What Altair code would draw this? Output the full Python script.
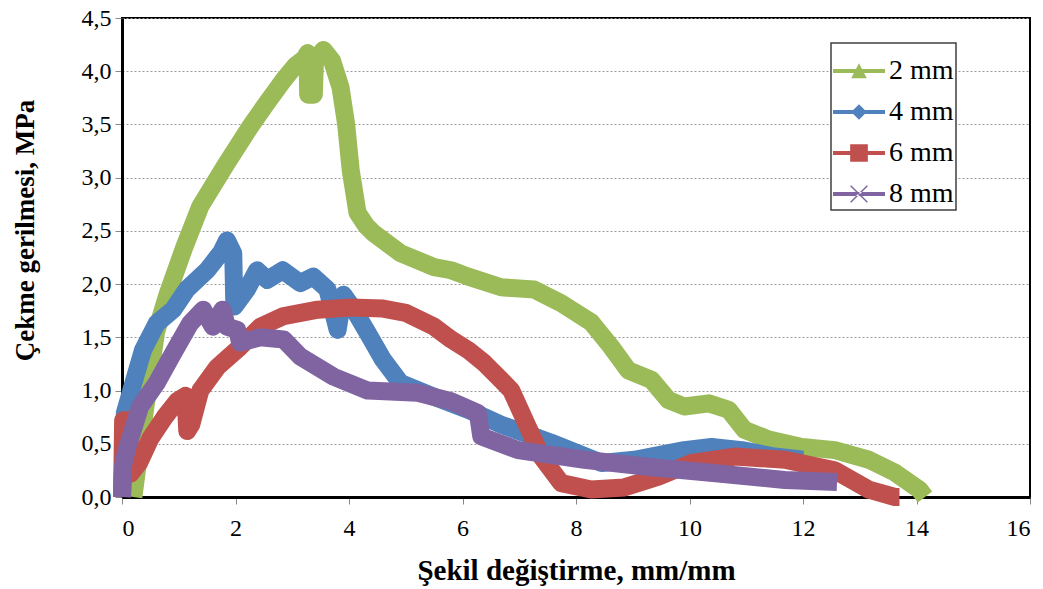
import altair as alt
import pandas as pd

series_names = ["2 mm", "4 mm", "6 mm", "8 mm"]
colors = ["#9BBB59", "#4F81BD", "#C0504D", "#8064A2"]

green_x = [0.2, 0.4, 0.6, 0.8, 1.1, 1.38, 1.85, 2.26, 2.55, 2.85, 3.05, 3.22, 3.27, 3.28, 3.38, 3.4, 3.55, 3.7, 3.85, 3.95, 4.03, 4.15, 4.3, 4.43, 4.91, 5.5, 5.8, 6.1, 6.68, 7.26, 7.74, 8.27, 8.62, 8.92, 9.33, 9.63, 9.91, 10.34, 10.69, 10.97, 11.4, 11.98, 12.56, 13.16, 13.62, 14.05, 14.15]
green_y = [0.0, 0.8, 1.55, 1.9, 2.35, 2.73, 3.14, 3.48, 3.7, 3.92, 4.05, 4.12, 4.17, 3.78, 3.78, 4.1, 4.2, 4.1, 3.85, 3.5, 3.07, 2.67, 2.55, 2.48, 2.29, 2.16, 2.13, 2.07, 1.97, 1.95, 1.82, 1.64, 1.41, 1.19, 1.10, 0.91, 0.85, 0.88, 0.82, 0.63, 0.54, 0.47, 0.44, 0.35, 0.23, 0.07, 0.0]

blue_x = [0.0, 0.05, 0.2, 0.37, 0.61, 0.9, 1.14, 1.5, 1.75, 1.85, 1.96, 1.98, 2.2, 2.38, 2.56, 2.83, 3.14, 3.37, 3.62, 3.8, 3.9, 4.1, 4.33, 4.6, 4.91, 5.5, 6.1, 6.68, 7.56, 8.45, 9.03, 9.91, 10.39, 10.92, 11.5, 12.0]
blue_y = [0.0, 0.79, 1.07, 1.38, 1.63, 1.76, 1.95, 2.13, 2.3, 2.41, 2.29, 1.79, 1.95, 2.13, 2.04, 2.13, 2.01, 2.07, 1.95, 1.57, 1.9, 1.75, 1.54, 1.29, 1.07, 0.94, 0.82, 0.68, 0.51, 0.32, 0.35, 0.44, 0.47, 0.44, 0.38, 0.35]

red_x = [0.0, 0.02, 0.12, 0.15, 0.3, 0.5, 0.75, 0.97, 1.12, 1.15, 1.22, 1.38, 1.68, 2.08, 2.44, 2.85, 3.45, 4.03, 4.6, 5.0, 5.5, 5.8, 6.1, 6.38, 6.68, 6.86, 7.15, 7.39, 7.74, 8.27, 8.85, 9.45, 10.04, 10.8, 11.68, 12.56, 13.16, 13.62, 13.7]
red_y = [0.0, 0.72, 0.72, 0.22, 0.32, 0.55, 0.75, 0.9, 0.95, 0.62, 0.68, 1.0, 1.22, 1.41, 1.6, 1.70, 1.76, 1.78, 1.77, 1.73, 1.6, 1.48, 1.38, 1.26, 1.1, 1.0, 0.66, 0.38, 0.13, 0.07, 0.09, 0.19, 0.32, 0.38, 0.35, 0.25, 0.07, 0.0, 0.0]

purple_x = [0.0, 0.02, 0.08, 0.32, 0.61, 0.9, 1.2, 1.43, 1.6, 1.77, 1.85, 2.03, 2.08, 2.44, 2.85, 3.14, 3.73, 4.33, 5.21, 5.8, 6.27, 6.33, 6.98, 8.15, 9.33, 10.51, 11.68, 12.6]
purple_y = [0.0, 0.3, 0.44, 0.85, 1.07, 1.35, 1.63, 1.76, 1.6, 1.76, 1.6, 1.57, 1.45, 1.5, 1.48, 1.32, 1.13, 1.0, 0.98, 0.9, 0.79, 0.57, 0.44, 0.35, 0.28, 0.22, 0.16, 0.14]

x_ticks = [0, 2, 4, 6, 8, 10, 12, 14, 16]
y_ticks = [0.0, 0.5, 1.0, 1.5, 2.0, 2.5, 3.0, 3.5, 4.0, 4.5]

rows = []
for name, xs, ys in zip(series_names, [green_x, blue_x, red_x, purple_x], [green_y, blue_y, red_y, purple_y]):
    for i, (a, b) in enumerate(zip(xs, ys)):
        rows.append({"series": name, "x": a, "y": b, "order": i})
df = pd.DataFrame(rows)

bar = "M-1,-0.08H1V0.08H-1Z "
shapes = [
    bar + "M0,-0.3L0.3,0.28L-0.3,0.28Z",
    bar + "M0,-0.3L0.3,0L0,0.3L-0.3,0Z",
    bar + "M-0.34,-0.34H0.34V0.34H-0.34Z",
    bar + "M-0.34,-0.3L-0.3,-0.34L0.34,0.3L0.3,0.34Z M0.34,-0.3L0.3,-0.34L-0.34,0.3L-0.3,0.34Z",
]

font = "Liberation Serif"

xenc = alt.X("x:Q", scale=alt.Scale(domain=[0, 16], nice=False),
             axis=alt.Axis(values=x_ticks, format="d", title="Şekil değiştirme, mm/mm", grid=False,
                           titleX=454, titleY=73, titleBaseline="middle", titleFontSize=29))
yenc = alt.Y("y:Q", scale=alt.Scale(domain=[0, 4.5], nice=False),
             axis=alt.Axis(values=y_ticks, title="Çekme gerilmesi, MPa",
                           labelExpr="replace(format(datum.value, '.1f'), '.', ',')",
                           titleX=-97, titleY=212, titleAngle=-90, titleFontSize=27,
                           titleAlign="center", titleBaseline="middle"))

layers = []
for name, col in zip(series_names, colors):
    layers.append(
        alt.Chart(df).transform_filter(alt.datum.series == name)
        .mark_line(strokeWidth=18, strokeJoin="round", strokeCap="butt", color=col)
        .encode(x=xenc, y=yenc, order="order:Q")
    )

leg = alt.Legend(title=None, orient="none", legendX=709, legendY=25)
legend_pts = alt.Chart(df).transform_filter("false").mark_point(filled=True, opacity=1, strokeWidth=0).encode(
    x="x:Q", y="y:Q",
    color=alt.Color("series:N", scale=alt.Scale(domain=series_names, range=colors), legend=leg),
    shape=alt.Shape("series:N", scale=alt.Scale(domain=series_names, range=shapes), legend=leg),
)
layers.append(legend_pts)

chart = alt.layer(*layers).properties(
    width=908, height=479,
    autosize=alt.AutoSizeParams(type="none"),
    padding={"left": 122, "top": 18, "right": 13, "bottom": 92},
).configure_view(stroke="black", strokeWidth=2).configure_axis(
    labelFont=font, labelFontSize=24, labelColor="black",
    titleFont=font, titleFontWeight="bold", titleColor="black",
    domainColor="black", domainWidth=3,
    tickColor="#888888", tickSize=7, tickWidth=1,
    gridColor="#9a9a9a", gridDash=[2, 2], gridWidth=1,
).configure_axisX(labelPadding=12).configure_axisY(labelPadding=4).configure_legend(
    labelFont=font, labelFontSize=28, labelColor="black",
    symbolSize=2704, symbolStrokeWidth=0,
    strokeColor="#404040", strokeWidth=1.5, fillColor="white",
    padding=2, rowPadding=1, labelOffset=4, symbolOpacity=1,
)

chart.save("out.html", embed_options={"renderer": "svg", "actions": False})
